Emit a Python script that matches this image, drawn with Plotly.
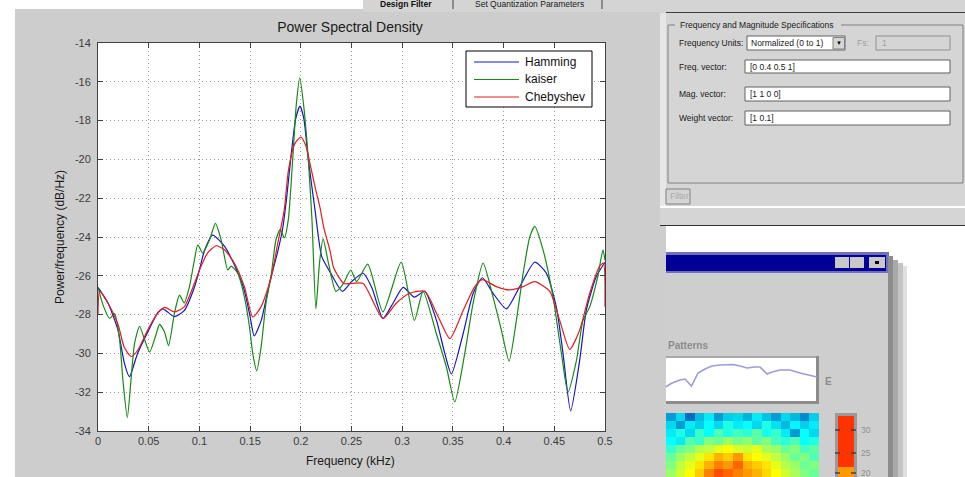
import plotly.graph_objects as go

# ---------------- data ----------------
freq_hamming = [0, 0.0098, 0.0197, 0.026, 0.031, 0.039, 0.05, 0.059, 0.064, 0.075, 0.085, 0.095, 0.1,
                0.105, 0.113, 0.125, 0.135, 0.144, 0.15, 0.154, 0.161, 0.169, 0.177, 0.182, 0.186, 0.19,
                0.195, 0.1992, 0.203, 0.2074, 0.214, 0.2206, 0.2288, 0.241, 0.25, 0.2615, 0.27, 0.281,
                0.29, 0.301, 0.312, 0.3223, 0.3338, 0.342, 0.3485, 0.36, 0.37, 0.3791, 0.3896, 0.4028,
                0.4159, 0.4307, 0.4422, 0.452, 0.4586, 0.4661, 0.475, 0.4816, 0.4914, 0.5]
psd_hamming = [-26.6, -27.4, -28.8, -30.5, -31.2, -30.0, -28.8, -27.9, -27.7, -28.1, -27.8, -26.6, -25.7,
               -24.7, -23.9, -24.5, -25.5, -26.7, -28.1, -29.1, -28.3, -26.4, -24.8, -23.6, -22.0, -20.0,
               -17.9, -17.25, -17.9, -20.0, -22.6, -25.0, -25.8, -26.8, -26.3, -25.87, -26.6, -28.2,
               -27.5, -26.6, -27.1, -26.8, -28.3, -30.0, -31.06, -29.0, -26.9, -26.1, -26.9, -27.7,
               -26.56, -25.3, -25.87, -27.6, -30.0, -32.96, -30.37, -27.77, -26.04, -25.3]

freq_kaiser = [0, 0.0049, 0.0115, 0.0164, 0.0213, 0.0246, 0.0289, 0.0328, 0.036, 0.041, 0.046, 0.0509,
               0.0574, 0.0607, 0.0656, 0.0696, 0.0755, 0.0804, 0.085, 0.0902, 0.0951, 0.0984, 0.1033,
               0.11, 0.1158, 0.1214, 0.128, 0.1312, 0.1378, 0.1444, 0.1493, 0.1526, 0.1565, 0.1608,
               0.1657, 0.1706, 0.1755, 0.1798, 0.1837, 0.1877, 0.192, 0.1955, 0.199, 0.203, 0.2074,
               0.211, 0.2149, 0.2185, 0.222, 0.2275, 0.2346, 0.242, 0.2493, 0.255, 0.266, 0.281, 0.299,
               0.312, 0.3206, 0.3338, 0.3436, 0.3518, 0.3617, 0.37, 0.3798, 0.3896, 0.3978, 0.4054,
               0.4126, 0.4192, 0.4258, 0.4307, 0.4389, 0.4488, 0.457, 0.4635, 0.4717, 0.4783, 0.4849,
               0.493, 0.498, 0.5]
psd_kaiser = [-26.6, -27.5, -28.2, -27.95, -29.3, -31.4, -33.3, -31.2, -29.5, -28.6, -29.3, -29.93,
              -29.0, -28.5, -28.9, -29.6, -27.9, -27.0, -27.4, -26.56, -25.18, -24.4, -24.83,
              -24.14, -23.3, -24.14, -25.7, -25.5, -25.87, -27.1, -28.6, -30.0, -30.9, -29.7,
              -27.4, -26.04, -24.14, -23.6, -24.05, -23.1, -20.0, -17.2, -15.8, -17.3, -20.0,
              -23.1, -27.7, -25.3, -24.1, -25.4, -26.8, -26.4, -25.7, -26.3, -25.4, -27.86, -25.3,
              -28.3, -26.8, -29.0, -30.7, -32.5, -30.0, -27.4, -25.35, -27.1, -28.8, -30.4,
              -28.3, -25.9, -24.0, -23.45, -24.66, -27.1, -30.0, -32.0, -30.4, -28.3, -27.6,
              -26.0, -24.66, -25.2]

freq_cheby = [0, 0.0016, 0.0098, 0.0197, 0.026, 0.0328, 0.039, 0.049, 0.0574, 0.0656, 0.0755, 0.085,
              0.095, 0.1017, 0.108, 0.1165, 0.1247, 0.1345, 0.1444, 0.1526, 0.1608, 0.1706, 0.177,
              0.1837, 0.1877, 0.194, 0.2, 0.205, 0.209, 0.214, 0.219, 0.2226, 0.2288, 0.2325, 0.2424,
              0.2485, 0.2615, 0.281, 0.2943, 0.3075, 0.3223, 0.3354, 0.347, 0.36, 0.3716, 0.379,
              0.3929, 0.406, 0.4192, 0.4307, 0.4455, 0.4553, 0.4652, 0.475, 0.4849, 0.4947, 0.4985, 0.5]
psd_cheby = [-28.0, -26.8, -27.4, -28.5, -29.7, -30.16, -29.85, -28.8, -28.03, -27.63, -27.86, -27.6,
             -26.4, -25.5, -24.83, -24.45, -24.66, -25.35, -26.56, -28.12, -27.6, -26.13, -24.4,
             -22.6, -20.6, -19.2, -18.85, -19.3, -20.2, -21.4, -22.5, -23.5, -24.7, -25.6, -26.4,
             -26.4, -26.4, -28.2, -27.4, -26.9, -26.8, -28.1, -29.24, -27.8, -26.56, -26.2,
             -26.56, -26.73, -26.56, -26.3, -26.8, -28.3, -29.8, -28.8, -26.9, -25.5, -25.35, -27.6]

series_names = ["Hamming", "kaiser", "Chebyshev"]
series_colors = ["#1414c8", "#168a16", "#e01e1e"]

x_tick_vals = [0, 0.05, 0.1, 0.15, 0.2, 0.25, 0.3, 0.35, 0.4, 0.45, 0.5]
x_tick_text = ["0", "0.05", "0.1", "0.15", "0.2", "0.25", "0.3", "0.35", "0.4", "0.45", "0.5"]
y_tick_vals = [-34, -32, -30, -28, -26, -24, -22, -20, -18, -16, -14]
y_tick_text = ["-34", "-32", "-30", "-28", "-26", "-24", "-22", "-20", "-18", "-16", "-14"]

# background GUI screenshot content
pattern_pos = [0, 6, 14, 19, 25.5, 32, 39, 46, 54, 67, 74, 81, 89, 94, 101, 106, 114, 124, 134, 142, 151]
pattern_level = [13.3, 17, 20, 21, 14, 27, 31, 34, 35, 35.5, 34, 32, 33, 33, 26, 28, 30, 30, 27, 25, 23]
spectro_rows = [
    [0.30, 0.36, 0.25, 0.33, 0.38, 0.30, 0.35, 0.36, 0.32, 0.38, 0.34, 0.30, 0.36, 0.33, 0.28, 0.35],
    [0.36, 0.30, 0.38, 0.35, 0.40, 0.36, 0.42, 0.38, 0.40, 0.36, 0.42, 0.37, 0.33, 0.39, 0.35, 0.38],
    [0.38, 0.42, 0.36, 0.44, 0.40, 0.46, 0.42, 0.45, 0.43, 0.47, 0.41, 0.44, 0.38, 0.30, 0.40, 0.36],
    [0.40, 0.38, 0.46, 0.44, 0.50, 0.48, 0.52, 0.49, 0.51, 0.47, 0.50, 0.45, 0.43, 0.46, 0.40, 0.42],
    [0.44, 0.48, 0.50, 0.54, 0.55, 0.58, 0.60, 0.57, 0.56, 0.58, 0.53, 0.52, 0.48, 0.50, 0.45, 0.47],
    [0.48, 0.52, 0.55, 0.58, 0.62, 0.66, 0.64, 0.68, 0.62, 0.60, 0.58, 0.55, 0.52, 0.48, 0.50, 0.46],
    [0.50, 0.55, 0.58, 0.62, 0.66, 0.70, 0.68, 0.72, 0.66, 0.64, 0.62, 0.58, 0.54, 0.52, 0.48, 0.50],
    [0.52, 0.56, 0.60, 0.64, 0.70, 0.74, 0.72, 0.70, 0.68, 0.66, 0.63, 0.60, 0.56, 0.53, 0.50, 0.48],
]

# ---------------- layout helpers (pixel -> paper) ----------------
W, H = 965, 477
FONT = "Liberation Sans, Arial, sans-serif"


def X(px):
    return px / W


def Y(py):
    return 1 - py / H


shapes = []
annotations = []


def rect(x0, y0, x1, y1, fill=None, line=None, lw=1, layer="below"):
    shapes.append(dict(type="rect", xref="paper", yref="paper",
                       x0=X(x0), x1=X(x1), y0=Y(y1), y1=Y(y0),
                       fillcolor=fill if fill else "rgba(0,0,0,0)",
                       line=dict(color=line if line else "rgba(0,0,0,0)", width=lw if line else 0),
                       layer=layer))


def seg(x0, y0, x1, y1, color, lw=1, layer="below"):
    shapes.append(dict(type="line", xref="paper", yref="paper",
                       x0=X(x0), x1=X(x1), y0=Y(y0), y1=Y(y1),
                       line=dict(color=color, width=lw), layer=layer))


def text(px, py, s, size=8.5, color="#202020", xanchor="left", bold=False, textangle=0, family=FONT):
    annotations.append(dict(xref="paper", yref="paper", x=X(px), y=Y(py), text=("<b>%s</b>" % s) if bold else s,
                            showarrow=False, xanchor=xanchor, yanchor="middle", textangle=textangle,
                            font=dict(size=size, color=color, family=family)))


# figure (MATLAB window) background and plot area
rect(15, 9, 666, 477, "#cdcdcd")
rect(98, 43, 605, 431, "white")

# top tab strip
rect(363, 0, 965, 12, "#d4d4d4")
seg(453, 0, 453, 9, "#404040")
seg(602, 0, 602, 9, "#404040")
text(406, 4, "Design Filter", 8.5, "#101010", "center", bold=True)
text(529, 4, "Set Quantization Parameters", 8.5, "#202020", "center")

# filter design GUI panel
rect(666, 12, 965, 207, "#d5d5d5")
rect(660, 13, 666, 226, "#e6e6e6")
seg(666, 12.5, 965, 12.5, "#404040")
rect(668, 25, 963, 183, None, "#808080")
rect(675, 20, 841, 30, "#d5d5d5")
text(678, 25, "Frequency and Magnitude Specifications", 8.5)
text(677, 43, "Frequency Units:", 8.5)
rect(747, 36, 845, 50, "white", "#606060")
text(749, 43, "Normalized (0 to 1)", 8.5)
rect(833, 37.5, 844.5, 49, "#d5d5d5", "#808080")
text(839, 43, "▼", 6, "#000000", "center")
text(855, 43, "Fs:", 8.5, "#a0a0a0")
rect(876, 36, 950, 50, "#d5d5d5", "#909090")
text(880, 43, "1", 8.5, "#a0a0a0")
text(677, 67, "Freq. vector:", 8.5)
rect(745, 60, 950, 73, "white", "#606060")
text(748, 67, "[0 0.4 0.5 1]", 8.5)
text(677, 94, "Mag. vector:", 8.5)
rect(745, 87, 950, 101, "white", "#606060")
text(748, 94, "[1 1 0 0]", 8.5)
text(677, 118, "Weight vector:", 8.5)
rect(745, 111, 950, 125, "white", "#606060")
text(748, 118, "[1 0.1]", 8.5)
rect(666, 189, 690, 204, "#d5d5d5", "#808080")
text(668, 196, "Filter", 8.5, "#a8a8a8")
rect(660, 206, 965, 208, "white")
rect(660, 208, 965, 225, "#d5d5d5")
seg(660, 225.5, 965, 225.5, "#303030")

# second window
rect(666, 252, 889, 273, "#7070b8")
rect(666, 255, 886, 271, "#000096")
rect(835, 257, 849, 268, "#c8c8c8")
rect(850, 257, 864, 268, "#c8c8c8")
rect(869, 257, 885, 268, "#c8c8c8")
rect(875, 261, 879, 264, "#000000")
rect(666, 273, 888, 477, "#cecece")
rect(888, 256, 893, 477, "#8c8c8c")
rect(893, 260, 898, 477, "#a8a8a8")
rect(898, 263, 903, 477, "#c4c4c4")
rect(903, 266, 907, 477, "#e0e0e0")
text(666, 345, "Patterns", 10, "#8c8c8c", bold=True)
rect(666, 356, 818, 404, "#a8a8a8")
rect(666, 358, 816, 401, "white")
rect(666, 401, 819, 404, "#8c8c8c")
rect(816, 356, 819, 404, "#8c8c8c")
text(828, 381, "E", 10, "#8c8c8c", "center", bold=True)
rect(835, 413, 857, 477, "#9a9a9a")
rect(838, 416, 854, 467, "#ff3300")
rect(838, 467, 854, 477, "#ff9900")
for ty, lab in [(430, "30"), (453, "25"), (473, "20")]:
    seg(835, ty, 840, ty, "#404040", 1.5)
    seg(851, ty, 856, ty, "#404040", 1.5)
    text(859, ty, lab, 8.5, "#909090")

# MATLAB-style legend box (drawn above the curves)
rect(466, 51, 592, 107, "white", "#000000", 1, layer="above")
for i, (nm, col) in enumerate(zip(series_names, series_colors)):
    ly = 62 + i * 17.5
    seg(474, ly, 519, ly, col, 1.2, layer="above")
    text(523, ly, nm, 12, "#111111")

# ---------------- figure ----------------
fig = go.Figure()
for fx, fy, name, col in [(freq_hamming, psd_hamming, series_names[0], series_colors[0]),
                          (freq_kaiser, psd_kaiser, series_names[1], series_colors[1]),
                          (freq_cheby, psd_cheby, series_names[2], series_colors[2])]:
    fig.add_trace(go.Scatter(x=fx, y=fy, mode="lines", name=name, showlegend=False,
                             line=dict(color=col, width=1.2, shape="spline", smoothing=0.6)))

fig.add_trace(go.Scatter(x=pattern_pos, y=pattern_level, mode="lines", showlegend=False,
                         line=dict(color="#9c9cdc", width=1.6), xaxis="x2", yaxis="y2", hoverinfo="skip"))
fig.add_trace(go.Heatmap(z=spectro_rows, colorscale="Jet", zmin=0, zmax=1, showscale=False,
                         xaxis="x3", yaxis="y3", hoverinfo="skip"))

axis_common = dict(showline=True, linecolor="#404040", linewidth=1, mirror="ticks",
                   ticks="inside", ticklen=5, tickcolor="#404040",
                   showgrid=True, gridcolor="#9a9a9a", griddash="1px,3px", gridwidth=1,
                   zeroline=False, tickfont=dict(size=11, color="#3c3c3c", family=FONT),
                   automargin=False)

fig.update_layout(
    width=W, height=H,
    margin=dict(l=0, r=0, t=0, b=0),
    paper_bgcolor="white", plot_bgcolor="white",
    template="none",
    showlegend=False,
    title=dict(text="Power Spectral Density", x=X(350), y=Y(27), xanchor="center", yanchor="middle",
               xref="paper", yref="paper", font=dict(size=14, color="#1a1a1a", family=FONT)),
    xaxis=dict(domain=[X(98), X(605)], range=[0, 0.5], tickvals=x_tick_vals, ticktext=x_tick_text,
               **axis_common),
    yaxis=dict(domain=[Y(431), Y(43)], range=[-34, -14], tickvals=y_tick_vals, ticktext=y_tick_text,
               ticklabelstandoff=4, **axis_common),
    xaxis2=dict(domain=[X(666), X(817)], range=[0, 151], visible=False, anchor="y2"),
    yaxis2=dict(domain=[Y(400), Y(358)], range=[0, 42], visible=False, anchor="x2"),
    xaxis3=dict(domain=[X(666), X(819)], visible=False, anchor="y3"),
    yaxis3=dict(domain=[0, Y(413)], visible=False, anchor="x3", autorange="reversed"),
    shapes=shapes,
    annotations=annotations + [
        dict(xref="paper", yref="paper", x=X(350), y=Y(461), text="Frequency (kHz)", showarrow=False,
             xanchor="center", yanchor="middle", font=dict(size=12, color="#1a1a1a", family=FONT)),
        dict(xref="paper", yref="paper", x=X(60), y=Y(237), text="Power/frequency (dB/Hz)", showarrow=False,
             xanchor="center", yanchor="middle", textangle=-90,
             font=dict(size=12, color="#1a1a1a", family=FONT)),
    ],
)

fig.write_html("out.html")
